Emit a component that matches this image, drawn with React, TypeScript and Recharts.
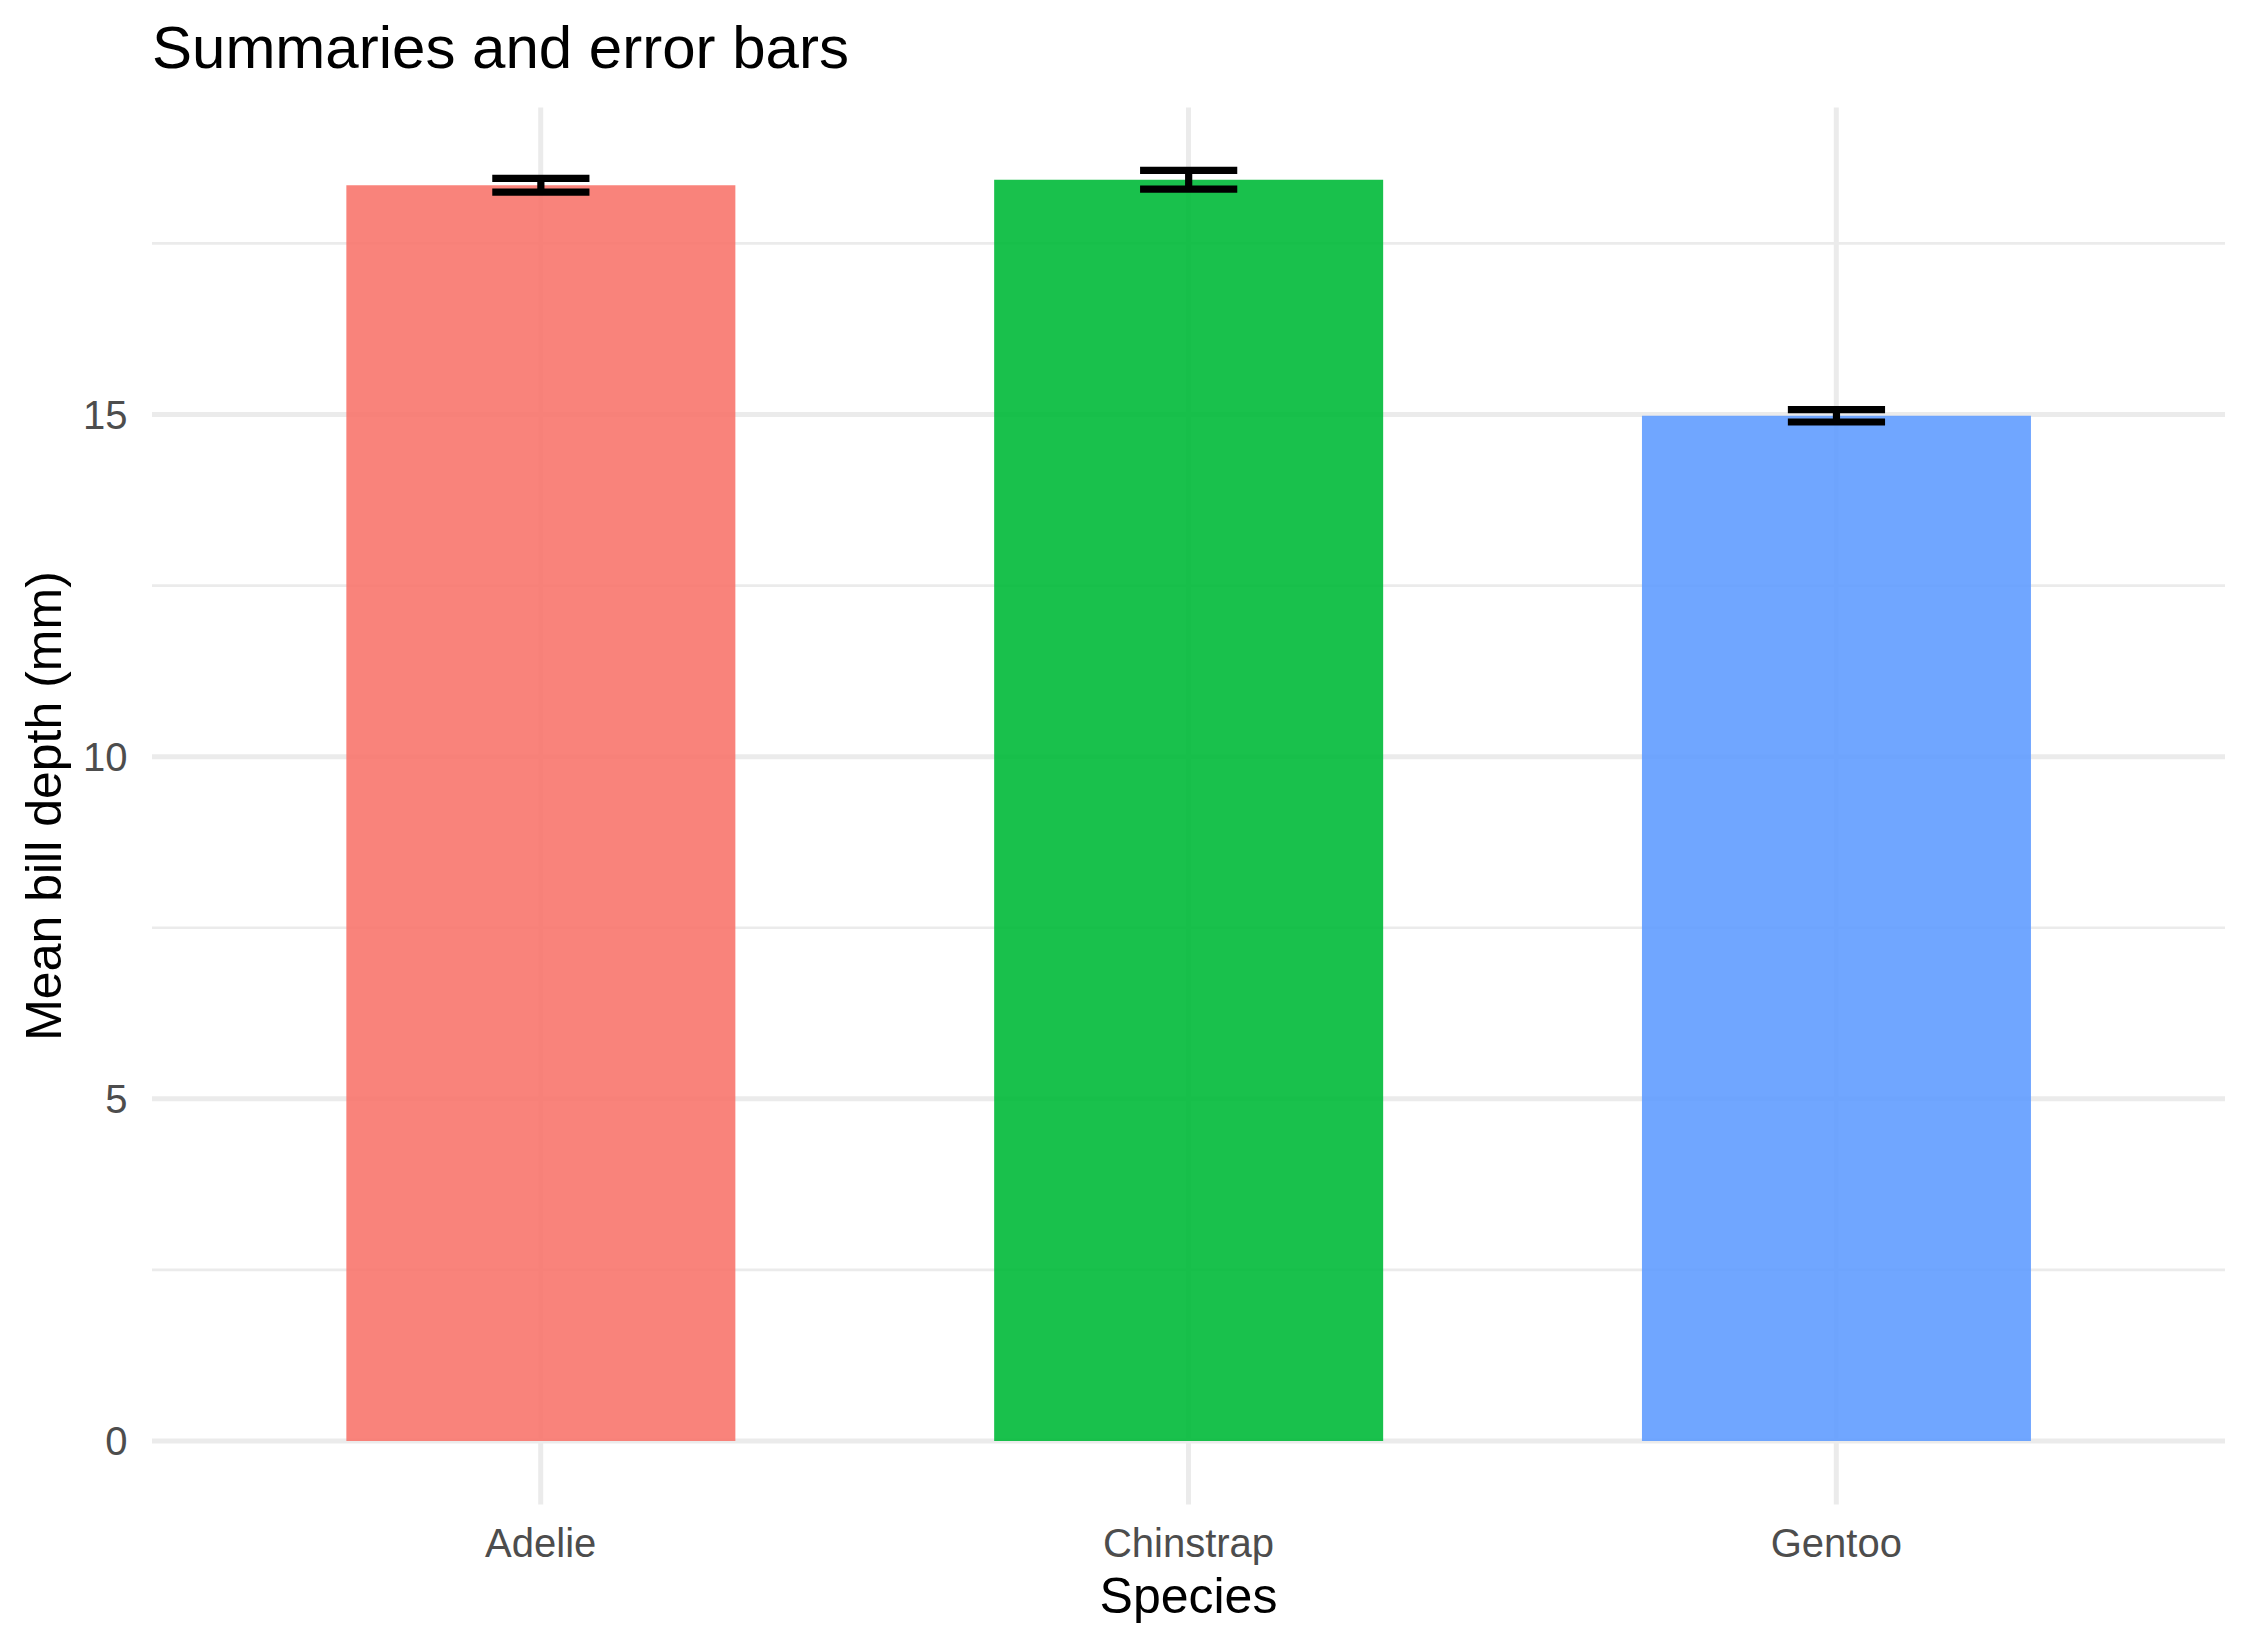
import React from 'react';
import { BarChart, Bar, XAxis, YAxis, CartesianGrid, ErrorBar, Cell } from 'recharts';

const species = ['Adelie', 'Chinstrap', 'Gentoo'];
const meanDepth = [18.35, 18.43, 14.98];
const seDepth = [0.1, 0.137, 0.09];
const barColors = ['#F8766D', '#00BA38', '#619CFF'];
const majorTicks = [0, 5, 10, 15];
const allTicks = [0, 2.5, 5, 7.5, 10, 12.5, 15, 17.5];
const yDomain = [-0.928, 19.486];

const data = species.map((s, i) => ({ species: s, mean: meanDepth[i], se: seDepth[i] }));

const FONT = '"Liberation Sans", Arial, Helvetica, sans-serif';

const YTick = (props: any) => {
  const { x, y, payload } = props;
  if (!majorTicks.includes(payload.value)) return null;
  return (
    <text x={x} y={y} dy="0.355em" textAnchor="end" fontSize={40} fill="#4D4D4D" fontFamily={FONT}>
      {payload.value}
    </text>
  );
};

const HLine = (p: any) => {
  const isMajor = p.index % 2 === 0;
  return (
    <line
      key={`h-${p.index}`}
      x1={p.x1}
      x2={p.x2}
      y1={p.y1}
      y2={p.y2}
      stroke="#EBEBEB"
      strokeWidth={isMajor ? 5 : 2.7}
    />
  );
};

export default function App() {
  return (
    <div style={{ position: 'absolute', left: 0, top: 0, width: 2250, height: 1650, background: '#fff' }}>
      <BarChart
        width={2250}
        height={1650}
        data={data}
        margin={{ top: 107.5, right: 25, left: 0, bottom: 0 }}
        barCategoryGap="20%"
      >
        <CartesianGrid stroke="#EBEBEB" strokeWidth={5} horizontal={HLine} syncWithTicks />
        <XAxis
          dataKey="species"
          height={145.5}
          padding={{ left: 64.8, right: 64.8 }}
          axisLine={false}
          tickLine={false}
          tickSize={0}
          tickMargin={24}
          tick={{ fontSize: 40, fill: '#4D4D4D', fontFamily: FONT }}
          label={{
            value: 'Species',
            position: 'insideBottom',
            offset: 36.7,
            style: { fontSize: 50, fill: '#000', fontFamily: FONT },
          }}
        />
        <YAxis
          type="number"
          width={152}
          domain={yDomain}
          allowDataOverflow
          ticks={allTicks}
          interval={0}
          axisLine={false}
          tickLine={false}
          tickSize={0}
          tickMargin={24.5}
          tick={<YTick />}
          label={{
            value: 'Mean bill depth (mm)',
            angle: -90,
            position: 'insideLeft',
            offset: 43,
            style: { fontSize: 50, fill: '#000', fontFamily: FONT, textAnchor: 'middle' },
          }}
        />
        <Bar dataKey="mean" isAnimationActive={false} fillOpacity={0.9}>
          {data.map((d, i) => (
            <Cell key={d.species} fill={barColors[i]} />
          ))}
          <ErrorBar dataKey="se" width={48.6} stroke="#000" strokeWidth={7.2} isAnimationActive={false} />
        </Bar>
      </BarChart>
      <svg
        width={2250}
        height={120}
        style={{ position: 'absolute', left: 0, top: 0, pointerEvents: 'none' }}
      >
        <text x={152} y={68.3} fontSize={60} fill="#000" fontFamily={FONT}>
          Summaries and error bars
        </text>
      </svg>
    </div>
  );
}
